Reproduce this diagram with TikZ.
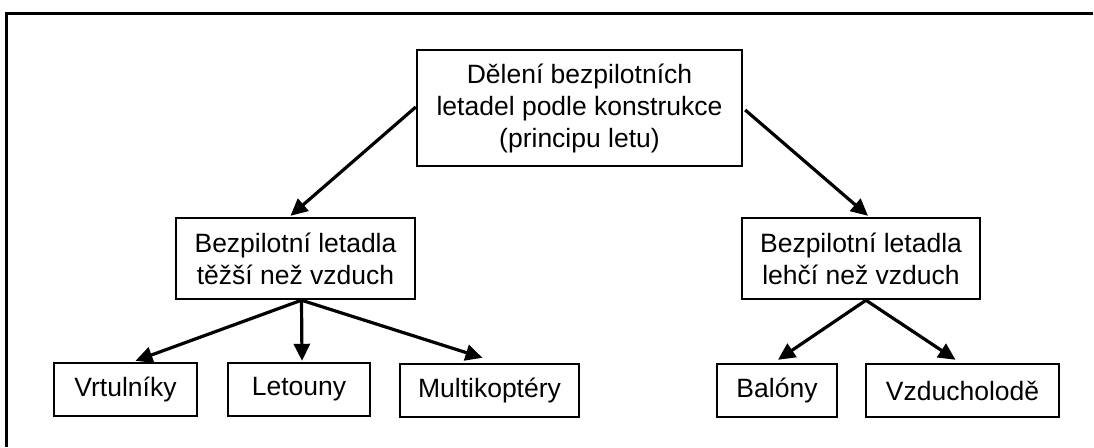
\documentclass[tikz,border=0pt]{standalone}
\usepackage{fontspec}
\setmainfont{Liberation Sans}
\usetikzlibrary{arrows.meta,calc}
\begin{document}
\begin{tikzpicture}[x=1pt,y=-1pt,
  box/.style={draw=black,line width=2.4pt,inner sep=0pt,align=center,
    font=\fontsize{26.5}{32}\selectfont},
  link/.style={line width=3.2pt,-{Triangle[length=17pt,width=16pt]}},
  frame/.style={line width=2.8pt}]
  \useasboundingbox (0,0) rectangle (1094,447);
  % outer frame (top and left edges)
  \coordinate (fa) at (6.5,447);
  \coordinate (fb) at (6.5,13.5);
  \coordinate (fc) at (1093,13.5);
  \draw[frame] (fa) -- (fb) -- (fc);
  % nodes
  \node[box,minimum width=325pt,minimum height=116pt] (top) at (579.5,108)
    {Dělení bezpilotních\\letadel podle konstrukce\\(principu letu)};
  \node[box,minimum width=239pt,minimum height=81pt] (heavy) at (295.5,258.5)
    {Bezpilotní letadla\\těžší než vzduch};
  \node[box,minimum width=238pt,minimum height=81pt] (light) at (861,258.5)
    {Bezpilotní letadla\\lehčí než vzduch};
  \node[box,minimum width=143pt,minimum height=53pt] (vrt) at (125.5,389.5) {Vrtulníky};
  \node[box,minimum width=142pt,minimum height=53pt] (let) at (299,389.5) {Letouny};
  \node[box,minimum width=179pt,minimum height=53pt] (mul) at (489.5,390.5) {Multikoptéry};
  \node[box,minimum width=120pt,minimum height=53pt] (bal) at (777,390.5) {Balóny};
  \node[box,minimum width=193pt,minimum height=53pt] (vzd) at (962.5,390.5) {Vzducholodě};
  % connectors
  \draw[link] ($(top.west)+(0,-1)$) -- ($(heavy.north)+(-5,-1)$);
  \draw[link] ($(top.east)+(2,2)$) -- ($(light.north)+(7,-1)$);
  \coordinate (hf) at ($(heavy.south)+(6,0)$);
  \coordinate (lf) at ($(light.south)+(5,0)$);
  \draw[link] (hf) -- ($(vrt.north)+(10,-1)$);
  \draw[link] (hf) -- ($(let.north)+(3,-1)$);
  \draw[link] (hf) -- ($(mul.north)+(-7,-5)$);
  \draw[link] (lf) -- ($(bal.north)+(1,-3)$);
  \draw[link] (lf) -- ($(vzd.north)+(-7,-3)$);
\end{tikzpicture}
\end{document}
